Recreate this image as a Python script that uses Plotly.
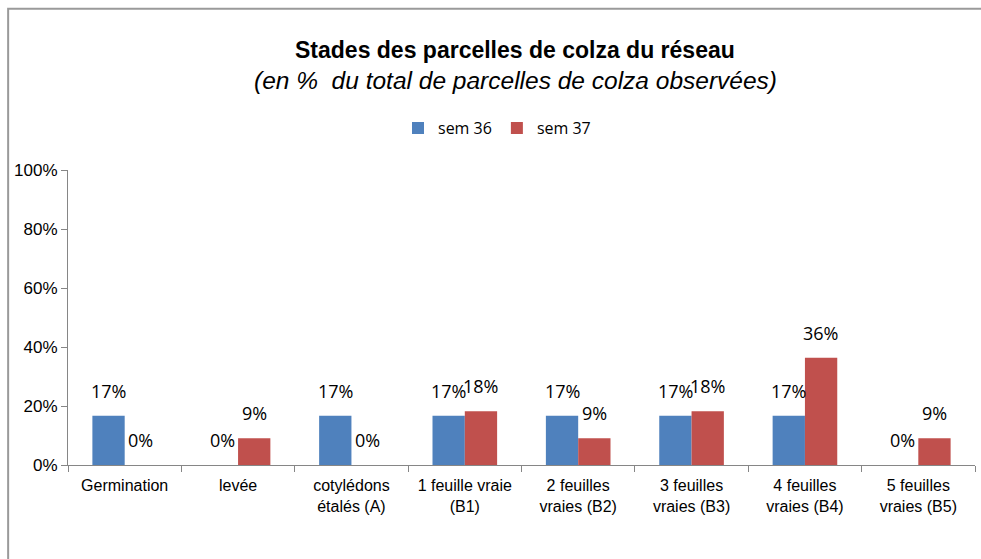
import plotly.graph_objects as go

categories = ["Germination", "levée", "cotylédons<br>étalés (A)", "1 feuille vraie<br>(B1)",
              "2 feuilles<br>vraies (B2)", "3 feuilles<br>vraies (B3)", "4 feuilles<br>vraies (B4)",
              "5 feuilles<br>vraies (B5)"]
sem36 = [16.67, 0, 16.67, 16.67, 16.67, 16.67, 16.67, 0]
sem37 = [0, 9.09, 0, 18.18, 9.09, 18.18, 36.36, 9.09]
series = [("sem 36", sem36, "#4F81BD", -16), ("sem 37", sem37, "#C0504D", 16)]
yticks = [0, 20, 40, 60, 80, 100]

fig = go.Figure()
for name, vals, color, _ in series:
    fig.add_trace(go.Bar(x=categories, y=vals, name=name, marker_color=color,
                         marker_line_width=0))

annotations = []
for name, vals, color, xs in series:
    for c, v in zip(categories, vals):
        annotations.append(dict(x=c, y=v, xref="x", yref="y", text=f"{round(v)}%",
                                showarrow=False, xshift=xs, yshift=11, yanchor="bottom",
                                font=dict(family="Open Sans, Noto Sans", size=18, color="#000000")))

annotations.append(dict(x=0.493, y=1.407, xref="paper", yref="paper", yanchor="middle",
                        text="<b>Stades des parcelles de colza du réseau</b>", showarrow=False,
                        font=dict(family="Liberation Sans, Arial", size=23, color="#000000")))
annotations.append(dict(x=0.493, y=1.305, xref="paper", yref="paper", yanchor="middle",
                        text="<i>(en %  du total de parcelles de colza observées)</i>", showarrow=False,
                        font=dict(family="Liberation Sans, Arial", size=24.5, color="#000000")))

fig.update_layout(
    width=981, height=559,
    margin=dict(l=68, r=6, t=170, b=94),
    paper_bgcolor="white", plot_bgcolor="white",
    barmode="group", bargap=0.43, bargroupgap=0,
    showlegend=True,
    legend=dict(orientation="h", x=0.473, y=1.142, xanchor="center", yanchor="middle",
                font=dict(family="Open Sans, Noto Sans", size=16, color="#000000"),
                itemwidth=30),
    annotations=annotations,
    shapes=[dict(type="rect", xref="paper", yref="paper", x0=-0.066, x1=1.06,
                 y0=-0.5, y1=1.547, line=dict(color="#9A9A9A", width=2))],
    xaxis=dict(showline=True, linecolor="#868686", linewidth=1, ticks="outside",
               tickson="boundaries", ticklen=6, tickcolor="#868686", ticklabelstandoff=6,
               tickfont=dict(family="Liberation Sans, Arial", size=16, color="#000000"),
               showgrid=False),
    yaxis=dict(range=[0, 100], tickvals=yticks, ticktext=[f"{t}%" for t in yticks],
               showline=True, linecolor="#868686", linewidth=1, ticks="outside",
               ticklen=6, tickcolor="#868686", showgrid=False, zeroline=False,
               tickfont=dict(family="Liberation Sans, Arial", size=17, color="#000000")),
)

fig.write_html("out.html", config={"displayModeBar": False},
               post_script="document.body.style.margin='0';document.body.style.overflow='hidden';")
